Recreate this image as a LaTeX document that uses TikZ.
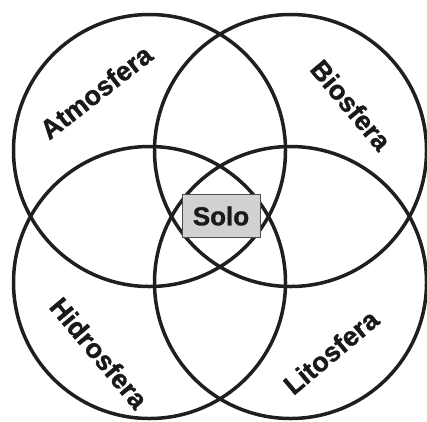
\documentclass[tikz,border=0pt]{standalone}
\usepackage{fontspec}
\setmainfont{Liberation Sans}[BoldFont={Liberation Sans Bold}]
\newfontfamily\labfont{Liberation Sans Bold}[FakeBold=1.2]
\begin{document}
\begin{tikzpicture}[x=1pt,y=-1pt,
  ring/.style={draw=black!88,line width=3.5pt},
  lab/.style={font=\labfont\fontsize{27}{27}\selectfont,text=black!90,inner sep=0pt},
  solobox/.style={draw=black!70,line width=0.8pt,fill=black!18,minimum width=78pt,minimum height=43pt,inner sep=0pt,font=\labfont\fontsize{26}{26}\selectfont,text=black!90}]
\useasboundingbox (0,0) rectangle (427,421);
\draw[ring] (149.5,150.5) circle (136);
\draw[ring] (290.5,150.5) circle (136);
\draw[ring] (149.5,282.5) circle (136);
\draw[ring] (290.5,282.5) circle (136);
\node[solobox] (solo) at (221,216) {Solo};
\node[lab,rotate=38] (atmo) at (96,92) {Atmosfera};
\node[lab,rotate=-50] (bio) at (351,105) {Biosfera};
\node[lab,rotate=-50] (hidro) at (99,353) {Hidrosfera};
\node[lab,rotate=40] (lito) at (331,352) {Litosfera};
\end{tikzpicture}
\end{document}
